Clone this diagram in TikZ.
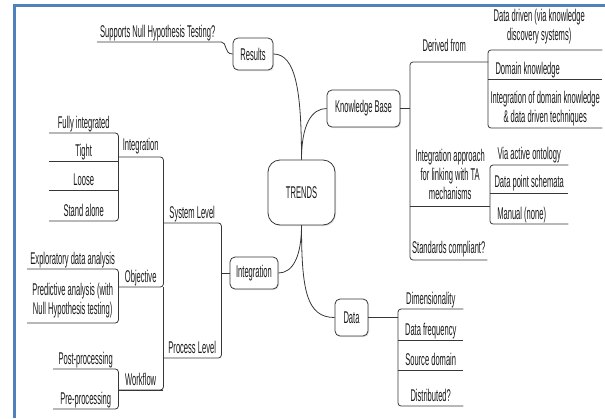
\documentclass[tikz,border=0pt]{standalone}
\usepackage{fontspec}
\setmainfont{Liberation Sans}[FakeStretch=0.445]
\usetikzlibrary{shadows}

\definecolor{frameblue}{RGB}{79,129,189}
\definecolor{ink}{RGB}{25,25,25}
\definecolor{wirec}{RGB}{55,55,55}

\tikzset{
  lab/.style={anchor=south west, inner xsep=0pt, inner ysep=1pt, text depth=3.5pt,
    font=\fontsize{17}{19}\selectfont, text=ink, align=center},
  topic/.style={draw=wirec, line width=0.8pt, rounded corners=5pt, fill=white,
    font=\fontsize{17}{19}\selectfont, text=ink, inner sep=0pt,
    drop shadow={shadow xshift=1pt, shadow yshift=-1.2pt, fill=black!22}},
  wire/.style={draw=wirec, line width=0.8pt, rounded corners=3pt},
  curve/.style={draw=wirec, line width=0.8pt},
}
% trailing pad that pushes a centred label to the left
\newcommand\padr[1]{\hspace*{#1pt}}

\begin{document}
\begin{tikzpicture}[x=1pt, y=-1pt]
\useasboundingbox (0,0) rectangle (605,418);

% frame
\draw[frameblue, line width=3pt] (14.5,418) -- (14.5,5) -- (605,5);

% central topics
\node[topic, rounded corners=12pt, minimum width=67pt, minimum height=65pt] (tr) at (301.5,192.5) {TRENDS};
\node[topic, minimum width=40pt, minimum height=32pt] (res) at (253,54) {Results};
\node[topic, minimum width=73pt, minimum height=37pt] (kb) at (363.5,108.5) {Knowledge Base};
\node[topic, minimum width=48pt, minimum height=32pt] (int) at (254,273) {Integration};
\node[topic, minimum width=33pt, minimum height=37pt] (data) at (351.5,317.5) {Data};

% Results branch
\node[lab, minimum width=121pt] (sup) at (97,42) {Supports Null Hypothesis Testing?};

% Integration branch (left)
\node[lab, minimum width=69pt] (fi) at (49,133) {Fully integrated};
\node[lab, minimum width=69pt] (ti) at (49,161) {Tight};
\node[lab, minimum width=69pt] (lo) at (49,190) {Loose};
\node[lab, minimum width=69pt] (sa) at (49,221) {Stand alone};
\node[lab, minimum width=45pt, inner ysep=2.5pt] (ig) at (118,157) {Integration};
\node[lab, minimum width=91pt] (ed) at (27,269) {Exploratory data analysis};
\node[lab, minimum width=91pt, inner ysep=5pt] (pa) at (27,323) {Predictive analysis (with\\Null Hypothesis testing)};
\node[lab, minimum width=45pt] (ob) at (118,287) {Objective};
\node[lab, minimum width=65pt] (po) at (53,369) {Post-processing};
\node[lab, minimum width=65pt] (pr) at (53,409) {Pre-processing};
\node[lab, minimum width=45pt] (wf) at (118,390) {Workflow};
\node[lab, minimum width=58pt] (sl) at (163,223) {System Level};
\node[lab, minimum width=58pt] (pl) at (163,358) {Process Level};

% Knowledge Base branch (right)
\node[lab, minimum width=78pt, inner ysep=7pt] (der) at (410,62) {Derived from\padr{10}};
\node[lab, minimum width=114pt, inner ysep=6pt] (dd) at (488,50) {Data driven (via knowledge\padr{12}\\discovery systems)\padr{12}};
\node[lab, minimum width=114pt] (dk) at (488,79) {Domain knowledge\padr{35}};
\node[lab, minimum width=114pt, inner ysep=1.5pt] (idk) at (488,128) {Integration of domain knowledge\\\& data driven techniques};
\node[lab, minimum width=80pt, inner ysep=3pt] (ia) at (410,206) {Integration approach\\for linking with TA\\mechanisms};
\node[lab, minimum width=78pt, inner ysep=2pt] (va) at (490,165) {Via active ontology};
\node[lab, minimum width=78pt, inner ysep=2pt] (dp) at (490,193) {Data point schemata};
\node[lab, minimum width=78pt] (ma) at (490,224) {Manual (none)\padr{15}};
\node[lab, minimum width=77pt, inner ysep=2.5pt] (sc) at (410,260) {Standards compliant?};

% Data branch
\node[lab, minimum width=65pt] (di) at (398,309) {Dimensionality};
\node[lab, minimum width=65pt] (df) at (398,340) {Data frequency};
\node[lab, minimum width=65pt] (sd) at (398,370) {Source domain};
\node[lab, minimum width=65pt] (dis) at (398,406) {Distributed?};

% curved links from the central topic
\draw[curve] (res.east) .. controls +(22,0) and +(0,-70) .. (tr.north);
\draw[curve] (tr.north) .. controls +(0,-35) and +(-15,0) .. (kb.west);
\draw[curve] (tr.south) .. controls +(0,32) and +(14,0) .. (int.east);
\draw[curve] (tr.south) .. controls +(0,65) and +(-28,0) .. (data.west);

% Results
\draw[wire] (sup.south west) -- (sup.south east) .. controls +(9,0) and +(-9,0) .. (res.west);

% Integration tree
\draw[wire] (int.west) -- (int.west -| sl.south east);
\draw[wire] (sl.south west) -- (sl.south east) |- (pl.south west);
\draw[wire] (ig.south west) -- (ig.south east) |- (ob.south west);
\draw[wire] (ob.south east) |- (wf.south west);
\draw[wire] (wf.south west) -- (wf.south east);
\draw[wire] (fi.south west) -- (fi.south east) |- (sa.south west);
\draw[wire] (ti.south west) -- (ti.south east);
\draw[wire] (lo.south west) -- (lo.south east);
\draw[wire] (ed.south west) -- (ed.south east) |- (pa.south west);
\draw[wire] (po.south west) -- (po.south east) |- (pr.south west);

% Knowledge Base tree
\draw[wire] (kb.east) -- (kb.east -| der.south west);
\draw[wire] (der.south east) -- (der.south west) |- (sc.south east);
\draw[wire] (ia.south west) -- (ia.south east);
\draw[wire] (dd.south east) -- (dd.south west) |- (idk.south east);
\draw[wire] (dk.south west) -- (dk.south east);
\draw[wire] (va.south east) -- (va.south west) |- (ma.south east);
\draw[wire] (dp.south west) -- (dp.south east);

% Data tree
\draw[wire] (data.east) -- (data.east -| di.south west);
\draw[wire] (di.south east) -- (di.south west) |- (dis.south east);
\draw[wire] (df.south west) -- (df.south east);
\draw[wire] (sd.south west) -- (sd.south east);
\end{tikzpicture}
\end{document}
